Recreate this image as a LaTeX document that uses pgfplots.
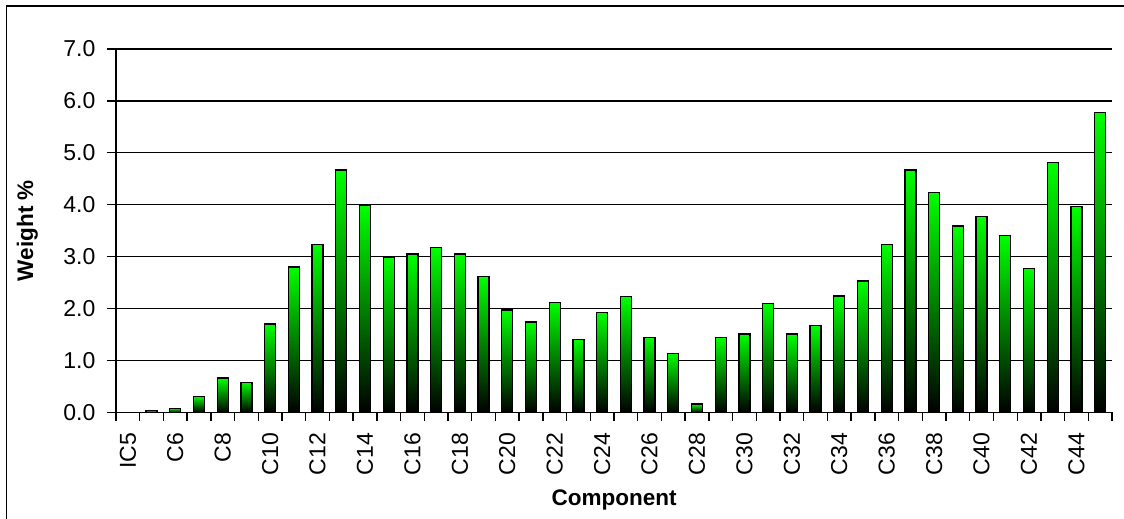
\documentclass[border=0pt]{standalone}
\usepackage{fontspec}
\setmainfont{Liberation Sans}
\usepackage{pgfplots}
\pgfplotsset{compat=1.18}

\definecolor{barGreen}{RGB}{0,255,0}

\begin{document}
\begin{tikzpicture}
\useasboundingbox (0,0) rectangle (1124bp,519bp);
% chart frame (right and bottom edges lie outside the page)
\draw[line width=1.3bp] (6.7bp,-5bp) -- (6.7bp,513bp) -- (1130bp,513bp);
\begin{axis}[
  at={(116bp,106.7bp)}, anchor=south west,
  scale only axis,
  width=996bp, height=363.3bp,
  xmin=-0.5, xmax=41.5,
  ymin=0, ymax=7,
  axis x line*=bottom, axis y line*=left,
  axis line style={line width=1.3bp, black},
  tick align=outside,
  major tick length=8.5bp, minor tick length=8.5bp,
  xtick={0,2,...,40},
  xticklabels={IC5,C6,C8,C10,C12,C14,C16,C18,C20,C22,C24,C26,C28,C30,C32,C34,C36,C38,C40,C42,C44},
  minor xtick={-0.5,0.5,...,41.5},
  major x tick style={draw=none},
  minor x tick style={line width=1.3bp, black},
  ytick={0,1,...,7},
  y tick style={line width=1.3bp, black},
  ymajorgrids,
  major grid style={line width=1.3bp, black},
  /pgf/number format/assume math mode=true,
  yticklabel={\pgfmathprintnumber[fixed,fixed zerofill,precision=1]{\tick}},
  ticklabel style={font=\fontsize{23bp}{28bp}\selectfont, black},
  xticklabel style={yshift=-12bp, rotate=90, anchor=east, inner sep=0pt},
  yticklabel style={xshift=-12bp, anchor=east, inner sep=0pt},
  xlabel={\bfseries Component},
  ylabel={\bfseries Weight \%},
  label style={font=\fontsize{22.5bp}{27bp}\selectfont},
  xlabel style={at={(axis description cs:0.5,-0.2552)}, anchor=base},
  ylabel style={at={(axis description cs:-0.0833,0.5)}, anchor=base},
  gbar/.style={ybar, bar shift=0pt, bar width=11bp, draw=black,
    line width=1.2bp, top color=barGreen, bottom color=black},
]
% one plot per component so that each bar carries its own gradient
% (IC5 at position 0 is zero and has no bar)
\addplot[gbar] coordinates {(1,0.04)};  % C5
\addplot[gbar] coordinates {(2,0.08)};  % C6
\addplot[gbar] coordinates {(3,0.31)};  % C7
\addplot[gbar] coordinates {(4,0.66)};  % C8
\addplot[gbar] coordinates {(5,0.58)};  % C9
\addplot[gbar] coordinates {(6,1.70)};  % C10
\addplot[gbar] coordinates {(7,2.80)};  % C11
\addplot[gbar] coordinates {(8,3.24)};  % C12
\addplot[gbar] coordinates {(9,4.67)};  % C13
\addplot[gbar] coordinates {(10,3.99)}; % C14
\addplot[gbar] coordinates {(11,2.98)}; % C15
\addplot[gbar] coordinates {(12,3.05)}; % C16
\addplot[gbar] coordinates {(13,3.17)}; % C17
\addplot[gbar] coordinates {(14,3.05)}; % C18
\addplot[gbar] coordinates {(15,2.61)}; % C19
\addplot[gbar] coordinates {(16,1.97)}; % C20
\addplot[gbar] coordinates {(17,1.74)}; % C21
\addplot[gbar] coordinates {(18,2.12)}; % C22
\addplot[gbar] coordinates {(19,1.41)}; % C23
\addplot[gbar] coordinates {(20,1.93)}; % C24
\addplot[gbar] coordinates {(21,2.23)}; % C25
\addplot[gbar] coordinates {(22,1.44)}; % C26
\addplot[gbar] coordinates {(23,1.14)}; % C27
\addplot[gbar] coordinates {(24,0.16)}; % C28
\addplot[gbar] coordinates {(25,1.44)}; % C29
\addplot[gbar] coordinates {(26,1.51)}; % C30
\addplot[gbar] coordinates {(27,2.09)}; % C31
\addplot[gbar] coordinates {(28,1.51)}; % C32
\addplot[gbar] coordinates {(29,1.67)}; % C33
\addplot[gbar] coordinates {(30,2.24)}; % C34
\addplot[gbar] coordinates {(31,2.53)}; % C35
\addplot[gbar] coordinates {(32,3.24)}; % C36
\addplot[gbar] coordinates {(33,4.67)}; % C37
\addplot[gbar] coordinates {(34,4.23)}; % C38
\addplot[gbar] coordinates {(35,3.59)}; % C39
\addplot[gbar] coordinates {(36,3.77)}; % C40
\addplot[gbar] coordinates {(37,3.40)}; % C41
\addplot[gbar] coordinates {(38,2.77)}; % C42
\addplot[gbar] coordinates {(39,4.82)}; % C43
\addplot[gbar] coordinates {(40,3.96)}; % C44
\addplot[gbar] coordinates {(41,5.77)}; % C45
\end{axis}
\end{tikzpicture}
\end{document}
